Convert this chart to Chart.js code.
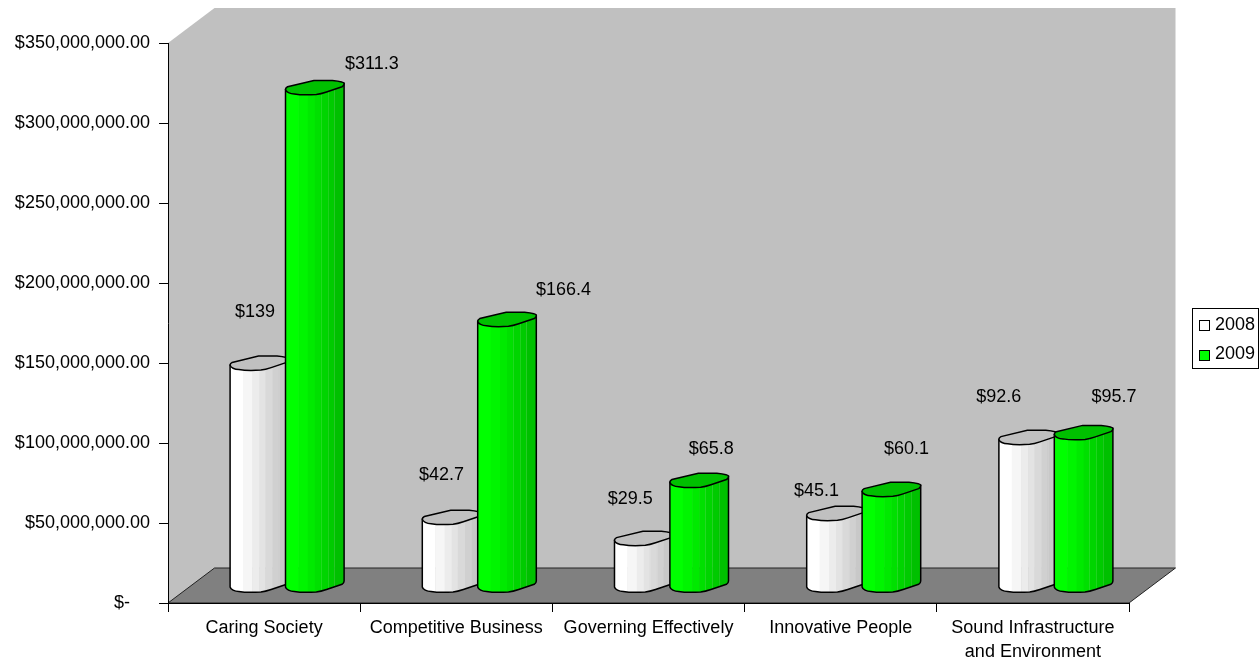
<!DOCTYPE html>
<html>
<head>
<meta charset="utf-8">
<title>Funding by outcome</title>
<script src="https://cdn.jsdelivr.net/npm/chart.js@4"></script>
<style>
  html, body { margin: 0; padding: 0; background: #fff; }
  canvas { display: block; }
</style>
</head>
<body>
<canvas id="chart" width="1259" height="662"></canvas>
<script>
const categories = ['Caring Society', 'Competitive Business', 'Governing Effectively', 'Innovative People', ['Sound Infrastructure', 'and Environment']];
const seriesNames = ['2008', '2009'];
const values2008 = [139000000, 42700000, 29500000, 45100000, 92600000];
const values2009 = [311300000, 166400000, 65800000, 60100000, 95700000];

const labelFont = '18px "Liberation Sans", Arial, sans-serif';

// 3d box depth
const depthX = 46.5, depthY = 35;

// hand placed data labels, offset from the top of each cylinder
const labelShift = [
    [[-4.5, -51], [-10, -42], [-13.5, -39], [-19.5, -22], [-29.5, -40]],
    [[57, -23], [56.5, -29], [12, -31], [15, -40], [30.5, -35]]
];

const bandStops = [0, .22, .38, .5, .6, .72, .83, 1];
const bandColors = [
    ['#ffffff', '#f6f6f6', '#ececec', '#e3e3e3', '#d9d9d9', '#d0d0d0', '#c8c8c8'],
    ['#00ff00', '#00f500', '#00ea00', '#00e000', '#00d500', '#00cb00', '#00c000']
];
const topColors = ['#c0c0c0', '#00c000'];
const swatchColors = ['#ffffff', '#00ff00'];

// front half of the cylinder rim, left to right. x is in half widths, y in pixels
const frontCurve = (ctx, cx, cy, hw) => {
    ctx.bezierCurveTo(cx - .98 * hw, cy + 4.5, cx - .85 * hw, cy + 6.5, cx - .7 * hw, cy + 6.5);
    ctx.bezierCurveTo(cx - .5 * hw, cy + 7.5, cx - .2 * hw, cy + 7.5, cx + .05 * hw, cy + 7);
    ctx.bezierCurveTo(cx + .2 * hw, cy + 6.5, cx + .25 * hw, cy + 6, cx + .4 * hw, cy + 4.5);
    ctx.lineTo(cx + .93 * hw, cy - .7);
    ctx.bezierCurveTo(cx + .98 * hw, cy - 1.5, cx + hw, cy - 2.5, cx + hw, cy - 4);
};

const drawCylinder = (ctx, cx, top, base, hw, series) => {
    ctx.save();
    ctx.beginPath();
    ctx.moveTo(cx - hw, top + 2);
    ctx.lineTo(cx - hw, base + 2);
    frontCurve(ctx, cx, base, hw);
    ctx.lineTo(cx + hw, top - 4);
    ctx.closePath();

    ctx.save();
    ctx.clip();
    bandColors[series].forEach((color, i) => {
        const x0 = cx - hw + bandStops[i] * hw * 2;
        const x1 = cx - hw + bandStops[i + 1] * hw * 2;
        ctx.fillStyle = color;
        ctx.fillRect(x0, top - 10, x1 - x0 + .5, base - top + 25);
        // faint seams on the shaded side
        if (i >= 4) {
            ctx.fillStyle = 'rgba(255,255,255,.12)';
            ctx.fillRect(Math.round(x0), top - 10, 1, base - top + 25);
        }
    });
    ctx.restore();

    ctx.lineWidth = 1.5;
    ctx.strokeStyle = '#000';
    ctx.stroke();

    // top face
    ctx.beginPath();
    ctx.moveTo(cx - hw, top + 2);
    frontCurve(ctx, cx, top, hw);
    ctx.bezierCurveTo(cx + hw, top - 5, cx + .93 * hw, top - 6, cx + .6 * hw, top - 7);
    ctx.lineTo(cx - .03 * hw, top - 7);
    ctx.lineTo(cx - .93 * hw, top - .7);
    ctx.bezierCurveTo(cx - .98 * hw, top, cx - hw, top + 1, cx - hw, top + 2);
    ctx.closePath();
    ctx.fillStyle = topColors[series];
    ctx.fill();
    ctx.stroke();
    ctx.restore();
};

const box3d = {
    id: 'box3d',
    beforeDraw(chart) {
        const { ctx, chartArea: { left, right, top, bottom } } = chart;
        ctx.save();
        // walls
        ctx.fillStyle = '#c0c0c0';
        ctx.beginPath();
        ctx.moveTo(left, top);
        ctx.lineTo(left + depthX, top - depthY);
        ctx.lineTo(right + depthX, top - depthY);
        ctx.lineTo(right + depthX, bottom - depthY);
        ctx.lineTo(left, bottom);
        ctx.closePath();
        ctx.fill();
        // floor
        ctx.fillStyle = '#808080';
        ctx.beginPath();
        ctx.moveTo(left, bottom);
        ctx.lineTo(left + depthX, bottom - depthY);
        ctx.lineTo(right + depthX, bottom - depthY);
        ctx.lineTo(right, bottom);
        ctx.closePath();
        ctx.fill();
        ctx.strokeStyle = '#222';
        ctx.lineWidth = 1;
        ctx.stroke();
        ctx.restore();
    },
    afterDatasetsDraw(chart) {
        const { ctx } = chart;
        // cylinders stand halfway into the box
        const shiftX = 23, shiftY = depthY / 2;
        categories.forEach((_, i) => {
            seriesNames.forEach((name, s) => {
                const bar = chart.getDatasetMeta(s).data[i];
                drawCylinder(ctx, bar.x + shiftX, bar.y - shiftY, bar.base - shiftY, bar.width / 2 + 1.6, s);
            });
        });
        ctx.save();
        ctx.font = labelFont;
        ctx.fillStyle = '#000';
        ctx.textAlign = 'center';
        ctx.textBaseline = 'middle';
        seriesNames.forEach((name, s) => {
            const values = chart.data.datasets[s].data;
            chart.getDatasetMeta(s).data.forEach((bar, i) => {
                const [dx, dy] = labelShift[s][i];
                ctx.fillText('$' + values[i] / 1000000, bar.x + shiftX + dx, bar.y - shiftY + dy);
            });
        });
        ctx.restore();
    },
    afterDraw(chart) {
        const { ctx } = chart;
        ctx.save();
        ctx.strokeStyle = '#000';
        ctx.lineWidth = 1;
        ctx.fillStyle = '#fff';
        ctx.fillRect(1193, 308, 66, 60);
        ctx.strokeRect(1192.5, 308.5, 66, 60);
        ctx.font = labelFont;
        ctx.textBaseline = 'middle';
        seriesNames.forEach((name, s) => {
            const y = 320 + s * 30;
            ctx.fillStyle = swatchColors[s];
            ctx.fillRect(1199.5, y + .5, 10, 10);
            ctx.strokeRect(1199.5, y + .5, 10, 10);
            ctx.fillStyle = '#000';
            ctx.fillText(name, 1215, y + 5 - s);
        });
        ctx.restore();
    }
};

const ctx = document.getElementById('chart').getContext('2d');
new Chart(ctx, {
    type: 'bar',
    data: {
        labels: categories,
        datasets: [
            { label: seriesNames[0], data: values2008, backgroundColor: 'transparent', borderWidth: 0 },
            { label: seriesNames[1], data: values2009, backgroundColor: 'transparent', borderWidth: 0 }
        ]
    },
    options: {
        responsive: false,
        animation: false,
        events: [],
        layout: { autoPadding: false, padding: { top: 43, right: 130, left: 0, bottom: 0 } },
        datasets: { bar: { categoryPercentage: 0.5765, barPercentage: 1 } },
        plugins: {
            legend: { display: false },
            tooltip: { enabled: false }
        },
        scales: {
            x: {
                afterFit: (scale) => { scale.height = 59; },
                border: { color: '#000', width: 1 },
                grid: { drawOnChartArea: false, tickLength: 9, tickColor: '#000' },
                ticks: {
                    color: '#000',
                    maxRotation: 0,
                    autoSkip: false,
                    padding: 4,
                    font: { family: '"Liberation Sans", Arial, sans-serif', size: 18, lineHeight: 1.333 }
                }
            },
            y: {
                min: 0,
                max: 350000000,
                afterFit: (scale) => { scale.width = 168; },
                border: { color: '#000', width: 1 },
                grid: { drawOnChartArea: false, tickLength: 9, tickColor: '#000' },
                ticks: {
                    stepSize: 50000000,
                    color: '#000',
                    padding: 9,
                    font: { family: '"Liberation Sans", Arial, sans-serif', size: 18 },
                    callback: (v) => v === 0 ? '$-    ' : '$' + v.toLocaleString('en-US') + '.00'
                }
            }
        }
    },
    plugins: [box3d]
});
</script>
</body>
</html>
